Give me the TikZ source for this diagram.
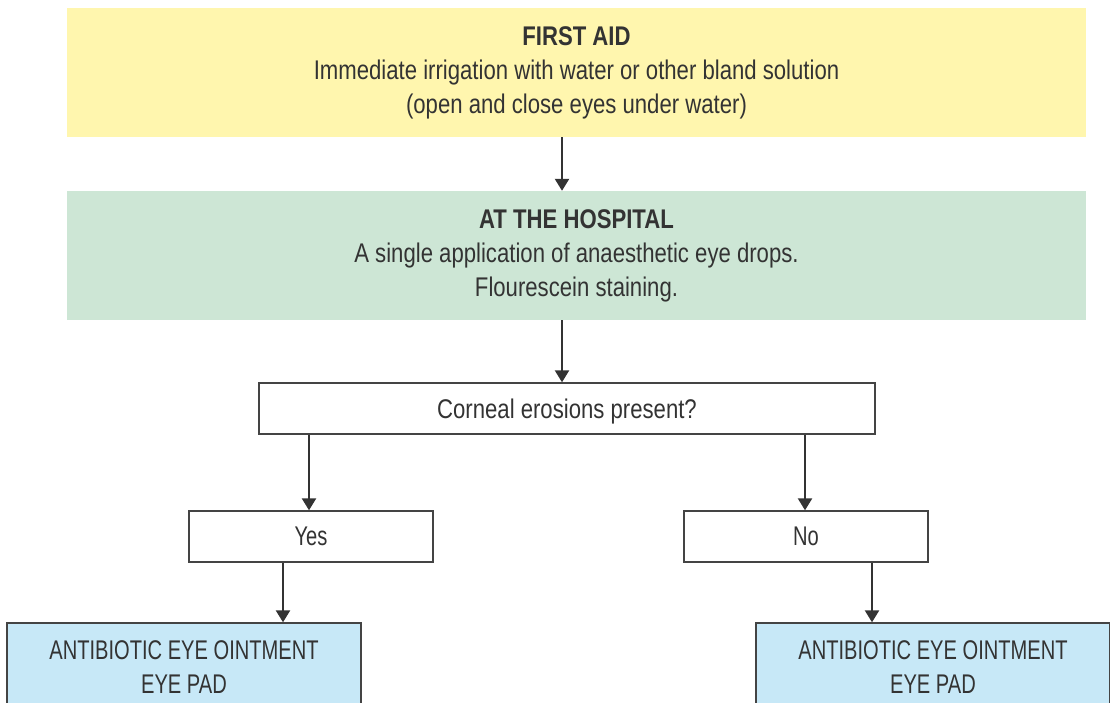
\documentclass[tikz,border=0pt]{standalone}
\usepackage{fontspec}
\setmainfont{Liberation Sans}[FakeStretch=0.82]
\newfontfamily\narrowfont{Liberation Sans}[FakeStretch=0.745]
\usetikzlibrary{arrows.meta}
\definecolor{txt}{HTML}{333333}
\definecolor{yel}{HTML}{FFF6AE}
\definecolor{grn}{HTML}{CDE6D5}
\definecolor{blu}{HTML}{C7E8F7}
\definecolor{bord}{HTML}{444444}
\tikzset{
  base/.style={rectangle, inner sep=0pt, text=txt, align=center, font=\fontsize{27}{34}\selectfont},
  band/.style={base, minimum width=1019pt, minimum height=129pt},
  wbox/.style={base, draw=bord, line width=1.4pt, fill=white, minimum height=51pt},
  bbox/.style={base, draw=bord, line width=1.4pt, fill=blu, minimum width=354pt, minimum height=88pt, font=\narrowfont\fontsize{27}{34}\selectfont},
  arr/.style={draw=txt, line width=2.4pt, -{Triangle[width=14pt,length=12pt]}}
}
\begin{document}
\begin{tikzpicture}[x=1pt,y=-1pt]
\clip (0,0) rectangle (1110,702);
\useasboundingbox (0,0) rectangle (1110,702);
\fill[white] (0,0) rectangle (1110,702);
\node[band, fill=yel] (fa) at (576.5,72.5) {\textbf{FIRST AID}\\Immediate irrigation with water or other bland solution\\(open and close eyes under water)};
\node[band, fill=grn] (hos) at (576.5,255.5) {\textbf{AT THE HOSPITAL}\\A single application of anaesthetic eye drops.\\Flourescein staining.};
\node[wbox, minimum width=616pt, text depth=0pt] (q) at (567,408.5) {Corneal erosions present?};
\node[wbox, minimum width=244pt, font=\narrowfont\fontsize{27}{34}\selectfont] (yes) at (311,536.5) {Yes};
\node[wbox, minimum width=244pt, font=\narrowfont\fontsize{27}{34}\selectfont] (no) at (806,536.5) {No};
\node[bbox] (bl) at (184,667) {ANTIBIOTIC EYE OINTMENT\\EYE PAD};
\node[bbox] (br) at (933,667) {ANTIBIOTIC EYE OINTMENT\\EYE PAD};
\coordinate (m) at (562,0);
\coordinate (c1) at (309,0);
\coordinate (c2) at (805,0);
\coordinate (c3) at (283,0);
\coordinate (c4) at (872,0);
\draw[arr] (fa.south -| m) -- (hos.north -| m);
\draw[arr] (hos.south -| m) -- (q.north -| m);
\draw[arr] (q.south -| c1) -- (yes.north -| c1);
\draw[arr] (q.south -| c2) -- (no.north -| c2);
\draw[arr] (yes.south -| c3) -- (bl.north -| c3);
\draw[arr] (no.south -| c4) -- (br.north -| c4);
\end{tikzpicture}
\end{document}
